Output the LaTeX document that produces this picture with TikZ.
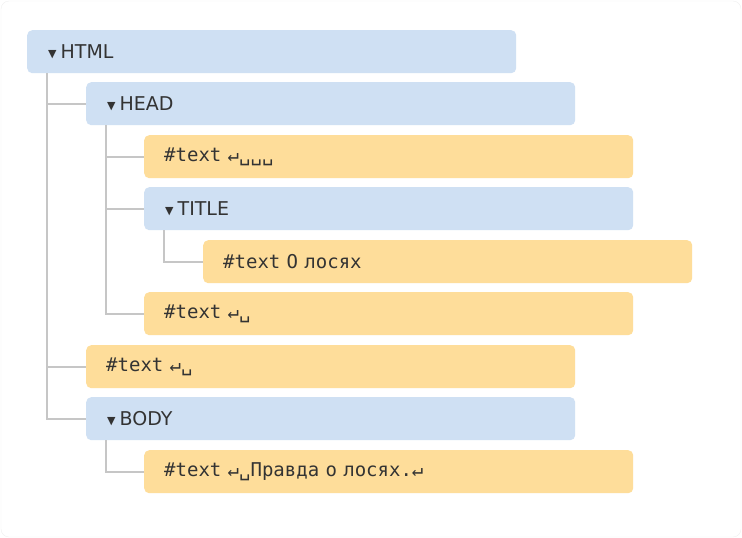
\documentclass[tikz,border=0pt]{standalone}
\usepackage{fontspec}
\setmainfont{DejaVu Sans}
\newfontfamily\monofont{DejaVu Sans Mono}
\definecolor{tagblue}{HTML}{CFE0F3}
\definecolor{textorange}{HTML}{FEDD9A}
\definecolor{inkgray}{HTML}{333333}
\definecolor{linegray}{HTML}{C6C6C6}
\begin{document}
\begin{tikzpicture}[x=1pt, y=-1pt,
	box/.style = {anchor=north west, rounded corners=5pt, minimum height=43pt,
		inner xsep=20pt, text width=449pt, align=left, text=inkgray,
		font=\fontsize{19}{22}\selectfont},
	tag/.style = {box, fill=tagblue},
	txt/.style = {box, fill=textorange, font=\fontsize{19}{22}\selectfont\monofont},
	link/.style = {draw=linegray, line width=1.6pt}]
	
	\def \tri {\hspace{1pt}{\fontsize{11}{11}\selectfont\raisebox{1.5pt}{▼}}\hspace{4pt}}
	
	\draw[rounded corners=8pt, draw=black!6, fill=white] (1,1) rectangle (741,537);
	\useasboundingbox (0,0) rectangle (742,538);
	
	\node[tag] (html)  at (27,30)  {\tri HTML};
	\node[tag] (head)  at (86,82)  {\tri HEAD};
	\node[txt] (text1) at (144,135) {\#text ↵␣␣␣};
	\node[tag] (title) at (144,187) {\tri TITLE};
	\node[txt] (text2) at (203,240) {\#text О лосях};
	\node[txt] (text3) at (144,292) {\#text ↵␣};
	\node[txt] (text4) at (86,345)  {\#text ↵␣};
	\node[tag] (body)  at (86,397)  {\tri BODY};
	\node[txt] (text5) at (144,450) {\#text ↵␣Правда о лосях.↵};
	
	% tree lines
	\draw[link] ([xshift=20pt]html.south west) |- (head.west);
	\draw[link] ([xshift=20pt]html.south west) |- (text4.west);
	\draw[link] ([xshift=20pt]html.south west) |- (body.west);
	\draw[link] ([xshift=20pt]head.south west) |- (text1.west);
	\draw[link] ([xshift=20pt]head.south west) |- (title.west);
	\draw[link] ([xshift=20pt]head.south west) |- (text3.west);
	\draw[link] ([xshift=20pt]title.south west) |- (text2.west);
	\draw[link] ([xshift=20pt]body.south west) |- (text5.west);
\end{tikzpicture}
\end{document}
